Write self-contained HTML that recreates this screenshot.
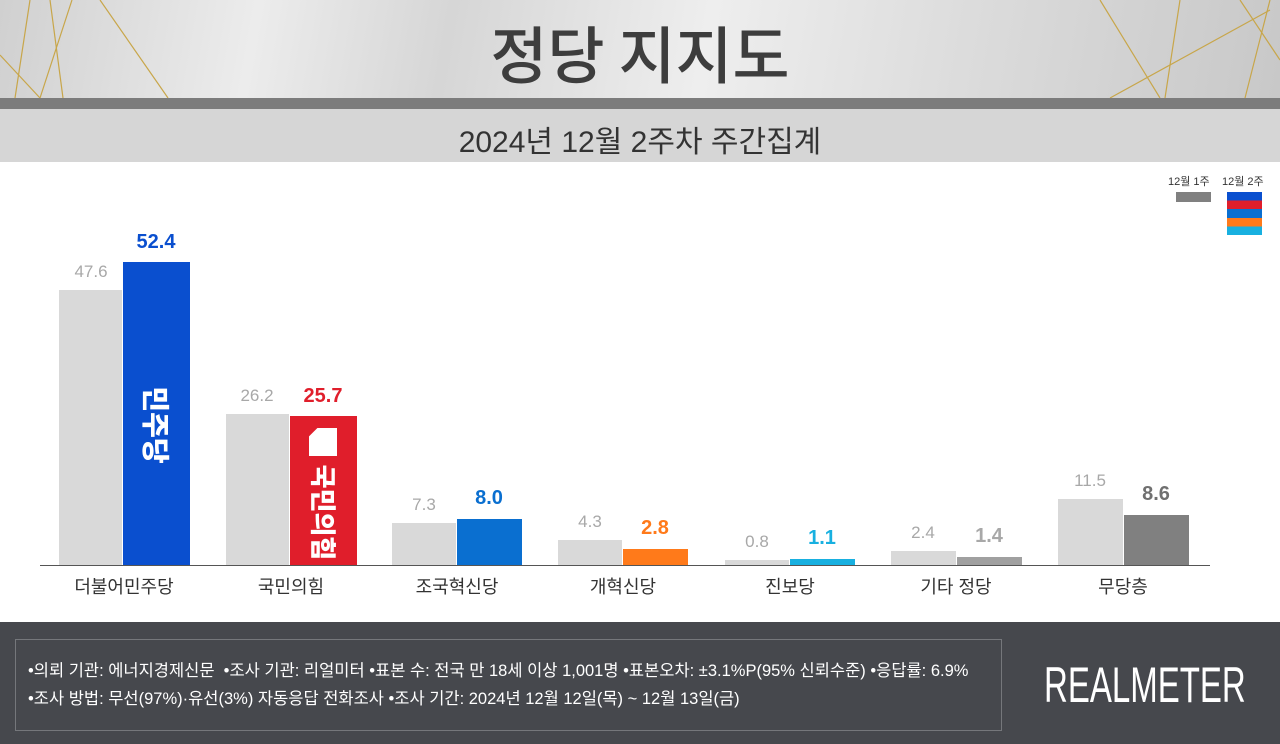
<!DOCTYPE html>
<html><head><meta charset="utf-8"><style>
body{margin:0;width:1280px;height:744px;position:relative;overflow:hidden;background:#fff;font-family:"Liberation Sans","Noto Sans CJK KR",sans-serif}
.a{position:absolute}
.b{position:absolute}
.v{position:absolute;width:80px;text-align:center;font-size:17px;color:#a8a8a8}
.c{position:absolute;width:90px;text-align:center;font-size:20px;font-weight:bold}
.l{position:absolute;width:160px;text-align:center;font-size:18px;color:#333;top:573px}
</style></head><body>
<div class="a" style="left:0;top:0;width:1280px;height:98px;background:linear-gradient(100deg,#d0d0d0 0%,#ececec 20%,#d6d6d6 35%,#eeeeee 55%,#dcdcdc 75%,#c8c8c8 100%)"></div>
<svg class="a" style="left:0;top:0" width="1280" height="98">
<g stroke="#c8a64a" stroke-width="1.2" fill="none">
<line x1="0" y1="55" x2="40" y2="98"/><line x1="15" y1="98" x2="30" y2="0"/><line x1="50" y1="0" x2="63" y2="98"/>
<line x1="72" y1="0" x2="40" y2="98"/><line x1="100" y1="0" x2="168" y2="98"/>
<line x1="1100" y1="0" x2="1160" y2="98"/><line x1="1180" y1="0" x2="1165" y2="98"/>
<line x1="1270" y1="0" x2="1245" y2="98"/><line x1="1240" y1="0" x2="1280" y2="60"/><line x1="1110" y1="98" x2="1270" y2="10"/>
</g></svg>
<div class="a" style="left:0;top:6px;width:1280px;text-align:center;font-size:62px;font-weight:500;color:#3d3d3d;font-family:'Noto Sans CJK KR',sans-serif">정당 지지도</div>
<div class="a" style="left:0;top:98px;width:1280px;height:11px;background:#7c7c7c"></div>
<div class="a" style="left:0;top:109px;width:1280px;height:53px;background:#d6d6d6"></div>
<div class="a" style="left:0;top:117px;width:1280px;text-align:center;font-size:30px;color:#333">2024년 12월 2주차 주간집계</div>

<div class="a" style="left:1168px;top:173px;font-size:11px;color:#333">12월 1주</div>
<div class="a" style="left:1222px;top:173px;font-size:11px;color:#333">12월 2주</div>
<div class="b" style="left:1176px;top:192px;width:35px;height:10px;background:#808080"></div>
<div class="b" style="left:1227px;top:192px;width:35px;height:43px;background:linear-gradient(#0a4fcf 0 20%,#e01e2b 20% 40%,#0a6fd0 40% 60%,#ff7a1a 60% 80%,#18b0e0 80%)"></div>

<div class="a" style="left:40px;top:565px;width:1170px;height:1px;background:#555"></div>

<div class="b" style="left:59px;top:290px;width:63px;height:275px;background:#d9d9d9"></div>
<div class="b" style="left:123px;top:262px;width:67px;height:303px;background:#0a4fcf"></div>
<div class="b" style="left:226px;top:414px;width:63px;height:151px;background:#d9d9d9"></div>
<div class="b" style="left:290px;top:416px;width:67px;height:149px;background:#e01e2b"></div>
<div class="b" style="left:392px;top:523px;width:64px;height:42px;background:#d9d9d9"></div>
<div class="b" style="left:457px;top:519px;width:65px;height:46px;background:#0a6fd0"></div>
<div class="b" style="left:558px;top:540px;width:64px;height:25px;background:#d9d9d9"></div>
<div class="b" style="left:623px;top:549px;width:65px;height:16px;background:#ff7a1a"></div>
<div class="b" style="left:725px;top:560px;width:64px;height:5px;background:#d9d9d9"></div>
<div class="b" style="left:790px;top:559px;width:65px;height:6px;background:#18b0e0"></div>
<div class="b" style="left:891px;top:551px;width:65px;height:14px;background:#d9d9d9"></div>
<div class="b" style="left:957px;top:557px;width:65px;height:8px;background:#a0a0a0"></div>
<div class="b" style="left:1058px;top:499px;width:65px;height:66px;background:#d9d9d9"></div>
<div class="b" style="left:1124px;top:515px;width:65px;height:50px;background:#808080"></div>

<div class="a" style="left:123px;top:380px;width:67px;height:90px;display:flex;align-items:center;justify-content:center"><div style="transform:rotate(90deg);color:#fff;font-weight:900;font-size:28px;white-space:nowrap">민주당</div></div>
<div class="b" style="left:309px;top:428px;width:28px;height:28px;background:#fff;clip-path:polygon(30% 0,100% 0,100% 100%,0 100%,0 30%)"></div>
<div class="a" style="left:290px;top:462px;width:67px;height:100px;display:flex;align-items:center;justify-content:center"><div style="transform:rotate(90deg);color:#fff;font-weight:900;font-size:26px;white-space:nowrap">국민의힘</div></div>

<div class="v" style="left:51px;top:262px">47.6</div>
<div class="c" style="left:111px;top:231px;color:#0a4fcf">52.4</div>
<div class="v" style="left:217px;top:386px">26.2</div>
<div class="c" style="left:278px;top:385px;color:#e01e2b">25.7</div>
<div class="v" style="left:384px;top:495px">7.3</div>
<div class="c" style="left:444px;top:487px;color:#0a6fd0">8.0</div>
<div class="v" style="left:550px;top:512px">4.3</div>
<div class="c" style="left:610px;top:517px;color:#ff7a1a">2.8</div>
<div class="v" style="left:717px;top:532px">0.8</div>
<div class="c" style="left:777px;top:527px;color:#18b0e0">1.1</div>
<div class="v" style="left:883px;top:523px">2.4</div>
<div class="c" style="left:944px;top:525px;color:#a8a8a8">1.4</div>
<div class="v" style="left:1050px;top:471px">11.5</div>
<div class="c" style="left:1111px;top:483px;color:#707070">8.6</div>

<div class="l" style="left:44px">더불어민주당</div>
<div class="l" style="left:211px">국민의힘</div>
<div class="l" style="left:377px">조국혁신당</div>
<div class="l" style="left:543px">개혁신당</div>
<div class="l" style="left:710px">진보당</div>
<div class="l" style="left:876px">기타 정당</div>
<div class="l" style="left:1043px">무당층</div>

<div class="a" style="left:0;top:622px;width:1280px;height:122px;background:#46484d"></div>
<div class="a" style="left:15px;top:639px;width:985px;height:90px;border:1px solid #75777b"></div>
<div class="a" style="left:28px;top:657px;font-size:16.5px;color:#fff;white-space:nowrap">•의뢰 기관: 에너지경제신문 &nbsp;•조사 기관: 리얼미터 •표본 수: 전국 만 18세 이상 1,001명 •표본오차: ±3.1%P(95% 신뢰수준) •응답률: 6.9%</div>
<div class="a" style="left:28px;top:685px;font-size:16.5px;color:#fff;white-space:nowrap">•조사 방법: 무선(97%)·유선(3%) 자동응답 전화조사 •조사 기간: 2024년 12월 12일(목) ~ 12월 13일(금)</div>
<div class="a" style="left:1044px;top:656px;font-size:50px;color:#fff;transform:scaleX(0.66);transform-origin:left top">REALMETER</div>
</body></html>
